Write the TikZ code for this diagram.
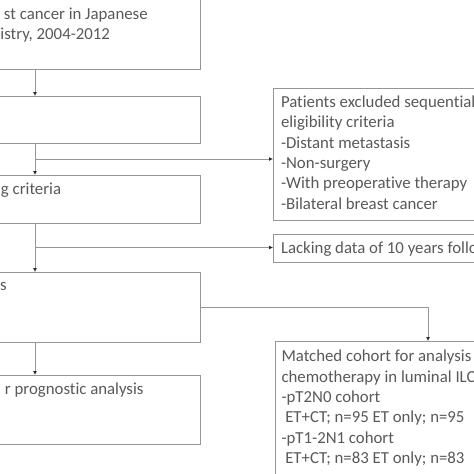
\documentclass[tikz,border=0pt]{standalone}
\usepackage{fontspec}
\setmainfont{Carlito}[Ligatures={NoCommon}]
\usetikzlibrary{arrows.meta}
\definecolor{txtgray}{RGB}{89,89,89}
\definecolor{linegray}{RGB}{150,150,150}
\definecolor{tipgray}{RGB}{40,40,40}
\tikzset{
  box/.style={draw=linegray, line width=0.8pt, rectangle, inner sep=0pt, outer sep=0pt},
  txt/.style={anchor=base west, inner sep=0pt, outer sep=0pt, text=txtgray,
    font=\fontsize{16.8}{20.4}\selectfont},
  arr/.style={draw=linegray, line width=0.8pt, -{Latex[length=4pt,width=4pt,color=tipgray]}},
}
\begin{document}
\begin{tikzpicture}[x=1pt,y=-1pt]
\path[use as bounding box, clip] (0,0) rectangle (474,474);
\fill[white] (0,0) rectangle (474,474);
% left column boxes
\node[box, minimum width=205pt, minimum height=74pt] (b1) at (97.5,32) {};
\node[box, minimum width=205pt, minimum height=47pt] (b2) at (97.5,119.5) {};
\node[box, minimum width=205pt, minimum height=48pt] (b3) at (97.5,199) {};
\node[box, minimum width=205pt, minimum height=70pt] (b4) at (97.5,307) {};
\node[box, minimum width=205pt, minimum height=69pt] (b5) at (97.5,409.5) {};
% right column boxes
\node[box, minimum width=210pt, minimum height=132pt] (ex) at (378,154) {};
\node[box, minimum width=210pt, minimum height=28pt] (lk) at (378,248) {};
\node[box, minimum width=210pt, minimum height=140pt] (mt) at (380.5,411) {};
% texts, left column
\node[txt] (t1a) at (4,19) {st cancer in Japanese};
\node[txt] (t1b) at (0.5,39.3) {istry, 2004-2012};
\node[txt] (t3) at (1,194.3) {g criteria};
\node[txt] (t4) at (0,290.7) {s};
\node[txt] (t5) at (5,394) {r prognostic analysis};
% texts, exclusion box
\node[txt] (ex1) at (281,107.3) {Patients excluded sequential};
\node[txt] (ex2) at (281,127.7) {eligibility criteria};
\node[txt] (ex3) at (281,148.1) {-Distant metastasis};
\node[txt] (ex4) at (281,168.5) {-Non-surgery};
\node[txt] (ex5) at (281,188.9) {-With preoperative therapy};
\node[txt] (ex6) at (281,209.3) {-Bilateral breast cancer};
% lacking box
\node[txt] (lk1) at (281,253.3) {Lacking data of 10 years follo};
% matched box
\node[txt] (mt1) at (281.5,361.7) {Matched cohort for analysis};
\node[txt] (mt2) at (281.5,382.1) {chemotherapy in luminal ILC};
\node[txt] (mt3) at (281.5,402.5) {-pT2N0 cohort};
\node[txt] (mt4) at (281.5,422.9) {\ ET+CT; n=95 ET only; n=95};
\node[txt] (mt5) at (281.5,443.3) {-pT1-2N1 cohort};
\node[txt] (mt6) at (281.5,463.7) {\ ET+CT; n=83 ET only; n=83};
% connectors
\coordinate (cx) at (35,0);
\coordinate (cy1) at (0,159);
\coordinate (cy2) at (0,247.5);
\coordinate (cy3) at (0,307);
\coordinate (mx) at (428,0);
\draw[arr] (b1.south -| cx) -- (b2.north -| cx);
\draw[arr] (b2.south -| cx) -- (b3.north -| cx);
\draw[arr] (cx |- cy1) -- (ex.west |- cy1);
\draw[arr] (b3.south -| cx) -- (b4.north -| cx);
\draw[arr] (cx |- cy2) -- (lk.west |- cy2);
\draw[arr] (b4.south -| cx) -- (b5.north -| cx);
\draw[arr] (b4.east |- cy3) -- (mx |- cy3) -- (mt.north -| mx);
\end{tikzpicture}
\end{document}
